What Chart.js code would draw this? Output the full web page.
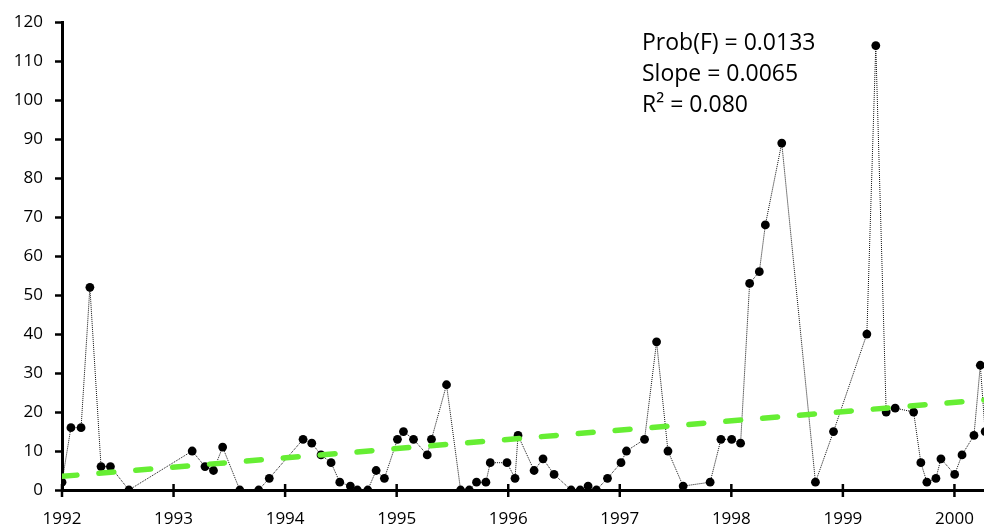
<!DOCTYPE html>
<html lang="en">
<head>
<meta charset="UTF-8">
<title>Trend chart 1992-2000</title>
<script src="https://cdn.jsdelivr.net/npm/chart.js"></script>
<style>
    body { margin: 0; background: #fff; }
    canvas { display: block; }
</style>
</head>
<body>
<canvas id="grafica" width="984" height="529"></canvas>
<script>
    // sample dates (decimal years) and values
    const fechas = [
        1992.000, 1992.080, 1992.171, 1992.250, 1992.350, 1992.434, 1992.600,
        1993.167, 1993.282, 1993.358, 1993.440, 1993.594, 1993.763, 1993.858,
        1994.161, 1994.239, 1994.322, 1994.412, 1994.490, 1994.585, 1994.648, 1994.741, 1994.816, 1994.890,
        1995.007, 1995.061, 1995.151, 1995.274, 1995.312, 1995.447, 1995.573, 1995.651, 1995.716, 1995.800, 1995.839, 1995.989,
        1996.061, 1996.088, 1996.232, 1996.312, 1996.411, 1996.564, 1996.645, 1996.716, 1996.791, 1996.890,
        1997.011, 1997.060, 1997.222, 1997.330, 1997.432, 1997.568, 1997.810, 1997.907,
        1998.003, 1998.083, 1998.164, 1998.251, 1998.305, 1998.452, 1998.754, 1998.916,
        1999.215, 1999.295, 1999.388, 1999.469, 1999.634, 1999.699, 1999.753, 1999.834, 1999.879,
        2000.002, 2000.068, 2000.175, 2000.232, 2000.275
    ];
    const valores = [
        2, 16, 16, 52, 6, 6, 0,
        10, 6, 5, 11, 0, 0, 3,
        13, 12, 9, 7, 2, 1, 0, 0, 5, 3,
        13, 15, 13, 9, 13, 27, 0, 0, 2, 2, 7, 7,
        3, 14, 5, 8, 4, 0, 0, 1, 0, 3,
        7, 10, 13, 38, 10, 1, 2, 13,
        13, 12, 53, 56, 68, 89, 2, 15,
        40, 114, 20, 21, 20, 7, 2, 3, 8,
        4, 9, 14, 32, 15
    ];

    // trend line end points
    const tendFechas = [1992, 2000.265];
    const tendValores = [3.5, 23.1];

    const anios = [1992, 1993, 1994, 1995, 1996, 1997, 1998, 1999, 2000];
    const textos = ['Prob(F) = 0.0133', 'Slope = 0.0065', 'R\u00B2 = 0.080'];

    const fuente = "'Open Sans', sans-serif";

    // x ticks cross the axis, so draw them by hand
    const marcasX = {
        id: 'marcasX',
        afterDraw(chart) {
            const ctx = chart.ctx;
            const x = chart.scales.x;
            const y0 = chart.chartArea.bottom;
            ctx.save();
            ctx.strokeStyle = '#000';
            ctx.lineWidth = 2.5;
            anios.forEach(a => {
                const px = x.getPixelForValue(a);
                ctx.beginPath();
                ctx.moveTo(px, y0 - 6);
                ctx.lineTo(px, y0 + 7);
                ctx.stroke();
            });
            ctx.restore();
        }
    };

    const anotacion = {
        id: 'anotacion',
        afterDraw(chart) {
            const ctx = chart.ctx;
            ctx.save();
            ctx.fillStyle = '#000';
            ctx.font = "23px " + fuente;
            ctx.textBaseline = 'alphabetic';
            textos.forEach((t, i) => ctx.fillText(t, 642, 50 + i * 31));
            ctx.restore();
        }
    };

    const ctx = document.getElementById('grafica').getContext('2d');
    const myChart = new Chart(ctx, {
        type: 'scatter',
        data: {
            datasets: [{
                label: 'Trend',
                data: tendFechas.map((f, i) => ({ x: f, y: tendValores[i] })),
                showLine: true,
                borderColor: '#66EE33',
                borderWidth: 5.5,
                borderDash: [15, 22],
                borderCapStyle: 'round',
                pointRadius: 0,
                order: 0
            }, {
                label: 'Values',
                data: fechas.map((f, i) => ({ x: f, y: valores[i] })),
                showLine: true,
                borderColor: '#111',
                borderWidth: 1,
                borderDash: [1, 1],
                pointRadius: 4.4,
                pointBackgroundColor: '#000',
                pointBorderColor: '#000',
                pointBorderWidth: 0,
                order: 1
            }]
        },
        options: {
            responsive: false,
            animation: false,
            layout: { autoPadding: false, padding: { top: 21, right: 0, left: 0, bottom: 0 } },
            plugins: {
                legend: { display: false },
                tooltip: { enabled: false }
            },
            scales: {
                x: {
                    type: 'linear',
                    min: 1992,
                    max: 2000.265,
                    afterFit: s => { s.height = 39; s.paddingRight = 0; s.paddingLeft = 0; },
                    border: { display: true, color: '#000', width: 3 },
                    grid: { display: true, drawOnChartArea: false, drawTicks: false },
                    ticks: {
                        stepSize: 1,
                        includeBounds: false,
                        padding: 19,
                        color: '#000',
                        font: { family: fuente, size: 17 },
                        maxRotation: 0,
                        callback: v => String(v)
                    }
                },
                y: {
                    min: 0,
                    max: 120,
                    afterFit: s => { s.width = 62; },
                    border: { display: true, color: '#000', width: 3 },
                    grid: { drawOnChartArea: false, drawTicks: true, tickLength: 7, tickColor: '#000', tickWidth: 2.5 },
                    ticks: {
                        stepSize: 10,
                        padding: 12,
                        color: '#000',
                        font: { family: fuente, size: 17 }
                    }
                }
            }
        },
        plugins: [marcasX, anotacion]
    });
</script>
</body>
</html>
